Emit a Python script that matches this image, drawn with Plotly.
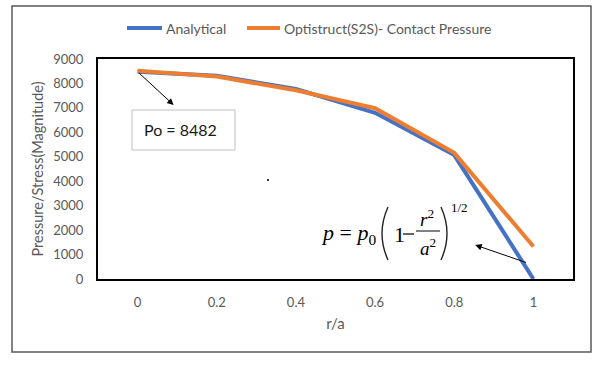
import plotly.graph_objects as go

# ---- data ----
r_over_a = [0, 0.2, 0.4, 0.6, 0.8, 1]
analytical = [8482, 8311, 7774, 6800, 5070, 0]
optistruct = [8520, 8280, 7720, 6985, 5160, 1330]
y_ticks = [0, 1000, 2000, 3000, 4000, 5000, 6000, 7000, 8000, 9000]
x_ticks = [0, 0.2, 0.4, 0.6, 0.8, 1]
x_tick_labels = ["0", "0.2", "0.4", "0.6", "0.8", "1"]
series_names = ["Analytical", "Optistruct(S2S)- Contact Pressure"]
series_colors = ["#4472C4", "#ED7D31"]

W, H = 602, 365
L, R, T, B = 98, 573, 59, 279  # plot area pixels


def px(x):
    return (x - L) / (R - L)


def py(y):
    return (B - y) / (B - T)


FONT = "Lato, 'Open Sans', sans-serif"
SERIF = "'Liberation Serif', 'DejaVu Serif', serif"
GRAY = "#595959"

fig = go.Figure()
for vals, name, col in zip([analytical, optistruct], series_names, series_colors):
    fig.add_trace(go.Scatter(x=r_over_a, y=vals, mode="lines", name=name,
                             line=dict(color=col, width=4), showlegend=False))

shapes = []
ann = []
# outer chart border
shapes.append(dict(type="rect", xref="paper", yref="paper",
                   x0=px(12), x1=px(591), y0=py(352), y1=py(6),
                   line=dict(color="#5a5a5a", width=1.5), layer="below"))
# legend (drawn manually to match spacing)
leg = [(127, 162, 164, series_names[0], series_colors[0]),
       (247, 280, 282, series_names[1], series_colors[1])]
for x0, x1, tx, name, col in leg:
    shapes.append(dict(type="line", xref="paper", yref="paper",
                       x0=px(x0), x1=px(x1), y0=py(28), y1=py(28),
                       line=dict(color=col, width=4)))
    ann.append(dict(xref="paper", yref="paper", x=px(tx), y=py(28), xanchor="left",
                    yanchor="middle", text=name, showarrow=False,
                    font=dict(family=FONT, size=14, color=GRAY)))
# Po box
shapes.append(dict(type="rect", xref="paper", yref="paper",
                   x0=px(132), x1=px(235), y0=py(150), y1=py(110),
                   line=dict(color="#BFBFBF", width=1), fillcolor="white"))
# fraction bar
shapes.append(dict(type="line", xref="paper", yref="paper",
                   x0=px(416), x1=px(440), y0=py(231), y1=py(231),
                   line=dict(color="black", width=1)))
# big parentheses as thin curves
def paren(xe, xc):
    return (f"M {px(xe)},{py(207)} Q {px(xc)},{py(233.5)} {px(xe)},{py(260)}")

shapes.append(dict(type="path", xref="paper", yref="paper", path=paren(388, 376),
                   line=dict(color="#222222", width=1.4)))
shapes.append(dict(type="path", xref="paper", yref="paper", path=paren(441, 453),
                   line=dict(color="#222222", width=1.4)))
# stray dot
shapes.append(dict(type="rect", xref="paper", yref="paper",
                   x0=px(267), x1=px(269), y0=py(181), y1=py(179),
                   line=dict(width=0), fillcolor="#333333"))

ann.append(dict(xref="paper", yref="paper", x=px(142), y=py(129), xanchor="left",
                yanchor="middle", text="Po = 8482", showarrow=False,
                font=dict(family=FONT, size=16, color="#1a1a1a")))
# arrow 1: from Po point to box
ann.append(dict(x=0.091, y=7120, xref="x", yref="y", ax=0, ay=8482, axref="x", ayref="y",
                text="", showarrow=True, arrowhead=2, arrowsize=1.3, arrowwidth=1,
                arrowcolor="black"))
# arrow 2: from r/a=1 toward formula
ann.append(dict(x=0.853, y=1390, xref="x", yref="y", ax=0.985, ay=655, axref="x", ayref="y",
                text="", showarrow=True, arrowhead=2, arrowsize=1.3, arrowwidth=1,
                arrowcolor="black"))
# formula pieces
ann.append(dict(xref="paper", yref="paper", x=px(378), y=py(234), xanchor="right",
                yanchor="middle", showarrow=False,
                text="<i>p</i> = <i>p</i><sub>0</sub>",
                font=dict(family=SERIF, size=22, color="black")))
ann.append(dict(xref="paper", yref="paper", x=px(392), y=py(234), xanchor="left",
                yanchor="middle", showarrow=False, text="1",
                font=dict(family=SERIF, size=22, color="black")))
shapes.append(dict(type="line", xref="paper", yref="paper",
                   x0=px(403), x1=px(414), y0=py(234), y1=py(234),
                   line=dict(color="black", width=1.2)))
ann.append(dict(xref="paper", yref="paper", x=px(427), y=py(218), xanchor="center",
                yanchor="middle", showarrow=False, text="<i>r</i><sup>2</sup>",
                font=dict(family=SERIF, size=19, color="black")))
ann.append(dict(xref="paper", yref="paper", x=px(428), y=py(247), xanchor="center",
                yanchor="middle", showarrow=False, text="<i>a</i><sup>2</sup>",
                font=dict(family=SERIF, size=19, color="black")))
ann.append(dict(xref="paper", yref="paper", x=px(449), y=py(207), xanchor="left",
                yanchor="middle", showarrow=False, text="1/2",
                font=dict(family=SERIF, size=13, color="black")))

fig.update_layout(
    width=W, height=H,
    margin=dict(l=L, r=W - R, t=T, b=H - B),
    paper_bgcolor="white", plot_bgcolor="white",
    font=dict(family=FONT, size=13, color=GRAY),
    showlegend=False,
    xaxis=dict(range=[-0.1, 1.1], tickvals=x_ticks, ticktext=x_tick_labels,
               showgrid=False, zeroline=False, showline=True, mirror=True,
               linecolor="black", linewidth=2, ticks="", ticklabelstandoff=10,
               tickfont=dict(size=13, color=GRAY),
               title=dict(text="r/a", font=dict(size=15, color=GRAY), standoff=10)),
    yaxis=dict(range=[0, 9000], tickvals=y_ticks, showgrid=False, zeroline=False,
               showline=True, mirror=True, linecolor="black", linewidth=2, ticks="",
               ticklabelstandoff=10, tickfont=dict(size=13, color=GRAY),
               title=dict(text="Pressure/Stress(Magnitude)",
                          font=dict(size=14.5, color=GRAY), standoff=6)),
    shapes=shapes, annotations=ann,
)

fig.write_html("out.html", config={"displayModeBar": False},
               post_script="document.body.style.margin='0';")
